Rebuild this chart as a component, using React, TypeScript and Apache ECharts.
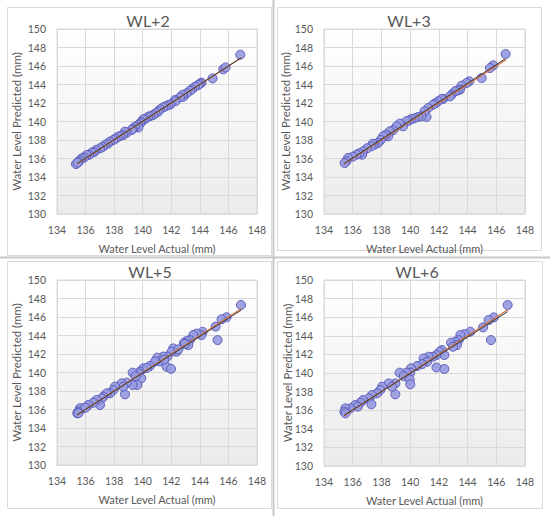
import React, { useEffect, useRef } from "react";
import * as echarts from "echarts";

const panelTitles = ["WL+2", "WL+3", "WL+5", "WL+6"];
const xAxisTitle = "Water Level Actual (mm)";
const yAxisTitle = "Water Level Predicted (mm)";
const xTicks = [134, 136, 138, 140, 142, 144, 146, 148];
const yTicks = [130, 132, 134, 136, 138, 140, 142, 144, 146, 148, 150];

const wl2Points = [
  [146.83, 147.22], [145.64, 145.64], [145.8, 145.85], [144.89, 144.66], [144.12, 144.2], [144.0, 144.1],
  [143.89, 143.94], [143.66, 143.76], [143.45, 143.5], [143.31, 143.33], [143.07, 143.04], [142.84, 142.68],
  [142.8, 142.9], [142.61, 142.61], [142.26, 142.32], [142.3, 142.2], [141.95, 141.85], [141.79, 141.78],
  [141.6, 141.65], [141.44, 141.53], [141.21, 141.31], [141.09, 141.06], [140.9, 140.9], [140.74, 140.7],
  [140.55, 140.6], [140.39, 140.52], [140.2, 140.3], [140.04, 140.23], [139.9, 139.95], [139.81, 139.8],
  [139.69, 139.62], [139.7, 139.35], [139.46, 139.44], [139.3, 139.2], [139.23, 139.08], [138.88, 138.79],
  [138.75, 138.9], [138.64, 138.54], [138.45, 138.45], [138.29, 138.36], [138.1, 138.15], [137.94, 138.0],
  [137.71, 137.82], [137.55, 137.6], [137.36, 137.46], [137.2, 137.25], [137.01, 137.1], [136.73, 136.92],
  [136.6, 136.7], [136.43, 136.63], [136.25, 136.4], [136.08, 136.38], [135.9, 136.1], [135.73, 136.02],
  [135.6, 135.8], [135.49, 135.65], [135.33, 135.4], [135.45, 135.55],
];

const wl3Points = [
  [146.65, 147.3], [145.79, 146.07], [145.56, 145.78], [144.98, 144.7], [144.12, 144.34], [143.93, 144.16],
  [143.58, 143.87], [143.47, 143.44], [143.3, 143.35], [143.12, 143.26], [142.88, 142.9], [142.77, 142.72],
  [142.3, 142.45], [142.19, 142.43], [141.95, 142.18], [141.75, 141.95], [141.6, 141.82], [141.26, 141.46],
  [141.14, 140.49], [141.0, 141.1], [140.79, 140.56], [140.56, 140.49], [140.3, 140.35], [140.09, 140.27],
  [139.9, 140.1], [139.74, 140.02], [139.51, 139.48], [139.28, 139.77], [139.05, 139.48], [138.8, 139.05],
  [138.58, 138.94], [138.47, 138.4], [138.3, 138.55], [138.12, 138.4], [137.95, 138.0], [137.77, 137.68],
  [137.53, 137.5], [137.4, 137.6], [137.3, 137.32], [137.0, 137.1], [136.72, 136.77], [136.65, 136.41],
  [136.45, 136.55], [136.26, 136.41], [136.0, 136.2], [135.67, 136.05], [135.55, 135.7], [135.44, 135.51],
];

const wl5Points = [
  [146.88, 147.3], [145.87, 145.97], [145.52, 145.75], [145.1, 144.96], [145.24, 143.5], [144.19, 144.4],
  [144.12, 144.05], [143.77, 144.2], [143.54, 144.05], [143.3, 143.5], [143.07, 143.4], [142.89, 143.2],
  [143.19, 142.97], [142.96, 143.08], [142.37, 142.25], [142.14, 142.6], [142.02, 142.25], [141.67, 140.63],
  [141.98, 140.4], [141.72, 141.72], [141.44, 141.72], [141.02, 141.6], [141.2, 141.2], [140.86, 141.2],
  [140.5, 140.7], [140.04, 140.45], [139.81, 140.09], [139.7, 139.9], [139.3, 139.98], [139.9, 139.37],
  [139.62, 138.65], [139.3, 138.65], [138.88, 138.9], [138.53, 138.83], [138.76, 137.64], [138.64, 138.47],
  [138.06, 138.47], [137.94, 138.1], [137.71, 137.75], [137.48, 137.75], [137.24, 137.39], [137.13, 137.2],
  [137.01, 136.49], [136.78, 137.03], [136.54, 136.74], [136.19, 136.49], [135.84, 136.13], [135.61, 136.13],
  [135.49, 135.77], [135.42, 135.59], [140.3, 140.5], [139.5, 139.6], [141.5, 141.4], [142.5, 142.5],
  [136.0, 136.2], [135.5, 135.6],
];

const wl6Points = [
  [146.79, 147.31], [145.82, 145.98], [145.47, 145.7], [145.08, 144.91], [145.63, 143.54], [144.19, 144.44],
  [143.78, 144.19], [143.5, 144.08], [143.38, 143.54], [143.15, 143.36], [142.85, 143.26], [143.26, 143.0],
  [142.99, 142.83], [142.22, 142.47], [142.06, 142.29], [142.38, 141.93], [141.83, 141.93], [141.59, 141.75],
  [141.29, 141.75], [140.94, 141.57], [141.18, 141.21], [140.83, 140.96], [141.83, 140.6], [142.38, 140.43],
  [140.48, 140.75], [140.06, 140.5], [140.01, 140.03], [139.74, 140.03], [139.27, 140.03], [139.55, 139.67],
  [139.97, 139.31], [140.01, 138.78], [138.97, 138.88], [138.5, 138.88], [138.97, 137.7], [138.74, 138.53],
  [138.04, 138.53], [137.92, 138.17], [137.69, 137.81], [137.34, 137.63], [137.11, 137.27], [137.3, 136.63],
  [136.72, 137.09], [136.53, 136.81], [136.18, 136.56], [136.35, 136.38], [135.84, 136.2], [135.49, 136.2],
  [135.42, 135.84], [135.49, 135.66],
];

// [x0, y0, x1, y1] of the fitted line and of the ideal (1:1) line in each panel
const trendLines = [
  [135.4, 135.45, 146.9, 146.9],
  [135.4, 135.45, 146.6, 146.76],
  [135.4, 135.42, 146.9, 146.75],
  [135.4, 135.45, 146.8, 146.6],
];
const idealLines = [
  [135.4, 135.4, 146.9, 146.9],
  [135.4, 135.4, 146.7, 146.7],
  [135.4, 135.4, 146.9, 146.9],
  [135.4, 135.4, 146.8, 146.8],
];

const allPoints = [wl2Points, wl3Points, wl5Points, wl6Points];

// layout (pixels)
const grids = [
  { left: 57, top: 29, width: 200, height: 185 },
  { left: 324, top: 29, width: 201, height: 185 },
  { left: 57, top: 280, width: 200, height: 185 },
  { left: 324, top: 280, width: 201, height: 186 },
];
const titlePos = [
  [148, 20],
  [409, 20],
  [150, 271],
  [417, 271],
];
const yNameX = [16, 285, 16, 287];
const panelRects = [
  [7, 7, 264, 248],
  [277, 7, 264, 243],
  [7, 261, 264, 247],
  [277, 261, 265, 247],
];

const TEXT = "#595959";
const GRID = "#d9d9d9";
const FONT = "Lato";

export default function App() {
  const ref = useRef<HTMLDivElement>(null);
  useEffect(() => {
    document.body.style.margin = "0";
    const chart = echarts.init(ref.current!, null, { renderer: "svg" });

    const xAxes: any[] = [];
    const yAxes: any[] = [];
    const series: any[] = [];
    const graphic: any[] = [];

    grids.forEach((g, i) => {
      xAxes.push({
        type: "value",
        gridIndex: i,
        min: xTicks[0],
        max: xTicks[xTicks.length - 1],
        interval: xTicks[1] - xTicks[0],
        axisLine: { show: true, lineStyle: { color: GRID } },
        axisTick: { show: false },
        axisLabel: { color: TEXT, fontFamily: FONT, fontSize: 10.5, margin: 10 },
        splitLine: { show: true, lineStyle: { color: GRID, width: 1 } },
      });
      yAxes.push({
        type: "value",
        gridIndex: i,
        min: yTicks[0],
        max: yTicks[yTicks.length - 1],
        interval: yTicks[1] - yTicks[0],
        axisLine: { show: true, lineStyle: { color: GRID } },
        axisTick: { show: false },
        axisLabel: { color: TEXT, fontFamily: FONT, fontSize: 10.5, margin: 11 },
        splitLine: { show: true, lineStyle: { color: GRID, width: 1 } },
      });
      const tl = trendLines[i];
      const il = idealLines[i];
      series.push({
        type: "scatter",
        xAxisIndex: i,
        yAxisIndex: i,
        data: allPoints[i],
        symbol: "circle",
        symbolSize: 9,
        itemStyle: { color: "#979be0", borderColor: "#5656b8", borderWidth: 1, opacity: 0.92 },
        z: 2,
      });
      series.push({
        type: "line",
        xAxisIndex: i,
        yAxisIndex: i,
        data: [[il[0], il[1]], [il[2], il[3]]],
        showSymbol: false,
        symbol: "none",
        lineStyle: { color: "#d0703a", width: 1.2 },
        z: 3,
      });
      series.push({
        type: "line",
        xAxisIndex: i,
        yAxisIndex: i,
        data: [[tl[0], tl[1]], [tl[2], tl[3]]],
        showSymbol: false,
        symbol: "none",
        lineStyle: { color: "#3a3a3a", width: 1 },
        z: 4,
      });

      const r = panelRects[i];
      graphic.push({
        type: "rect",
        shape: { x: r[0] + 0.5, y: r[1] + 0.5, width: r[2], height: r[3] },
        style: { fill: "none", stroke: GRID, lineWidth: 1 },
        silent: true,
        z: -1,
      });
      graphic.push({
        type: "text",
        x: titlePos[i][0],
        y: titlePos[i][1],
        z: 100,
        style: {
          text: panelTitles[i],
          fill: TEXT,
          fontFamily: FONT,
          fontSize: 16,
          align: "center",
          verticalAlign: "middle",
        },
      });
      graphic.push({
        type: "text",
        x: g.left + g.width / 2,
        y: g.top + g.height + 34,
        z: 100,
        style: {
          text: xAxisTitle,
          fill: TEXT,
          fontFamily: FONT,
          fontSize: 11,
          align: "center",
          verticalAlign: "middle",
        },
      });
      graphic.push({
        type: "text",
        x: yNameX[i],
        y: g.top + g.height / 2,
        rotation: Math.PI / 2,
        z: 100,
        style: {
          text: yAxisTitle,
          fill: TEXT,
          fontFamily: FONT,
          fontSize: 11.5,
          align: "center",
          verticalAlign: "middle",
        },
      });
    });

    graphic.push({
      type: "line",
      shape: { x1: 273.5, y1: 0, x2: 273.5, y2: 516 },
      style: { stroke: "#c8c8c8", lineWidth: 2 },
      silent: true,
      z: 100,
    });
    graphic.push({
      type: "line",
      shape: { x1: 0, y1: 257.5, x2: 550, y2: 257.5 },
      style: { stroke: "#c8c8c8", lineWidth: 2 },
      silent: true,
      z: 100,
    });

    chart.setOption({
      animation: false,
      backgroundColor: "#ffffff",
      grid: grids.map((g) => ({
        ...g,
        show: true,
        borderColor: GRID,
        borderWidth: 1,
        backgroundColor: new echarts.graphic.LinearGradient(0, 0, 0, 1, [
          { offset: 0, color: "#ffffff" },
          { offset: 1, color: "#ebebeb" },
        ]),
        containLabel: false,
      })),
      xAxis: xAxes,
      yAxis: yAxes,
      series,
      graphic,
    });
    return () => chart.dispose();
  }, []);
  return (
    <div
      ref={ref}
      style={{ position: "absolute", left: 0, top: 0, width: 550, height: 516 }}
    />
  );
}
